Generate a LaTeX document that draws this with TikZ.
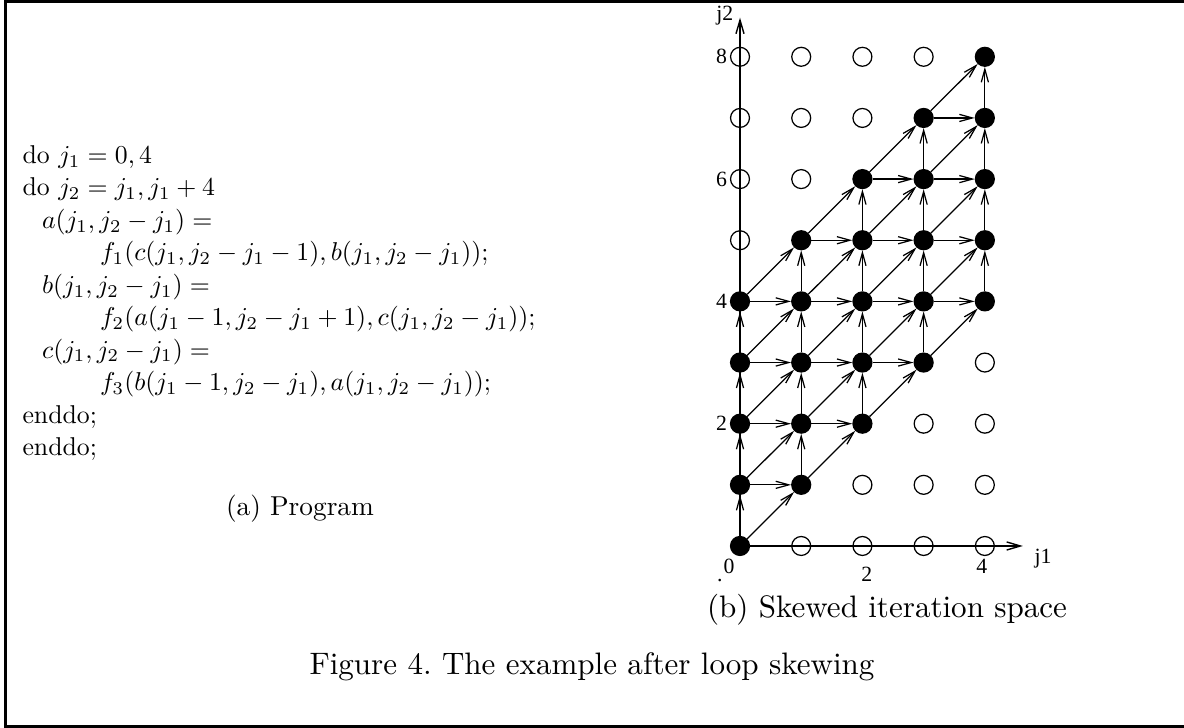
\documentclass[tikz,border=0pt]{standalone}
\usepackage{amsmath}
\usepackage{fontspec}
\newfontfamily\labfont{Liberation Serif}
\usetikzlibrary{arrows.meta,positioning,calc}

\begin{document}
\begin{tikzpicture}[x=0.322pt,y=0.322pt,
pfill/.style={circle,draw,fill=black,inner sep=0pt,minimum size=6.1pt},
popen/.style={circle,draw,fill=none,inner sep=0pt,minimum size=6.1pt},
dep/.style={line width=0.4pt,-{Straight Barb[length=4.2pt,width=2.3pt]}},
axis/.style={line width=0.45pt,-{Straight Barb[length=4.4pt,width=2.6pt]}},
lab/.style={inner sep=0pt,font=\labfont\fontsize{7}{8}\selectfont},
small/.style={scale=0.88,transform shape}]
\useasboundingbox (0,0) rectangle (1184,728);
\draw[line width=1pt] (1184,726.5)--(5.5,726.5)--(5.5,1.5)--(1184,1.5);
% program
\node[scale=0.83,transform shape,anchor=north west,inner sep=0pt,align=left,
font=\fontsize{10}{12.59}\selectfont] (prog) at (22,583) {%
do $j_1=0,4$\\
do $j_2=j_1,j_1+4$\\
\hspace*{7.6pt}$a(j_1,j_2-j_1)=$\\
\hspace*{30.1pt}$f_1(c(j_1,j_2-j_1-1),b(j_1,j_2-j_1));$\\
\hspace*{7.6pt}$b(j_1,j_2-j_1)=$\\
\hspace*{30.1pt}$f_2(a(j_1-1,j_2-j_1+1),c(j_1,j_2-j_1));$\\
\hspace*{7.6pt}$c(j_1,j_2-j_1)=$\\
\hspace*{30.1pt}$f_3(b(j_1-1,j_2-j_1),a(j_1,j_2-j_1));$\\
enddo;\\
enddo;};
\node[small] (capa) at (300,219) {(a) Program};
\node (capb) at (887,118) {(b) Skewed iteration space};
\node (fig) at (592,61) {Figure 4.\ The example after loop skewing};
% iteration space
\begin{scope}[shift={(740,182)},x=19.71pt,y=19.69pt]
\foreach \i in {0,...,4}
 \foreach \j in {0,...,8}{
  \pgfmathtruncatemacro\k{\j-\i}
  \ifnum\k<0 \node[popen] (p\i\j) at (\i,\j) {};
  \else\ifnum\k>4 \node[popen] (p\i\j) at (\i,\j) {};
  \else \node[pfill] (p\i\j) at (\i,\j) {};
  \fi\fi}
\coordinate (j2end) at (0,8.64);
\coordinate (j1end) at (4.62,0);
\draw[axis] (p00.center)--(j2end);
\draw[axis] (p00.center)--(j1end);
\foreach \i in {0,...,4}
 \foreach \k in {0,...,4}{
  \pgfmathtruncatemacro\j{\i+\k}
  \pgfmathtruncatemacro\ii{\i+1}
  \pgfmathtruncatemacro\jj{\j+1}
  \ifnum\k<4 \draw[dep] (p\i\j)--(p\i\jj); \fi
  \ifnum\i<4 \draw[dep] (p\i\j)--(p\ii\jj);
   \ifnum\k>0 \draw[dep] (p\i\j)--(p\ii\j); \fi
  \fi}
\node[lab] (l8) at (-0.3,8) {8};
\node[lab] (l6) at (-0.3,6) {6};
\node[lab] (l4) at (-0.3,4) {4};
\node[lab] (l2) at (-0.3,2) {2};
\node[lab] (l0) at (-0.18,-0.34) {0};
\node[lab] (b2) at (2.07,-0.47) {2};
\node[lab] (b4) at (3.95,-0.34) {4};
\node[lab] (dotl) at (-0.33,-0.56) {.};
\node[lab] (j1) at (4.95,-0.2) {j1};
\node[lab] (j2) at (-0.25,8.68) {j2};
\end{scope}
\end{tikzpicture}
\end{document}
